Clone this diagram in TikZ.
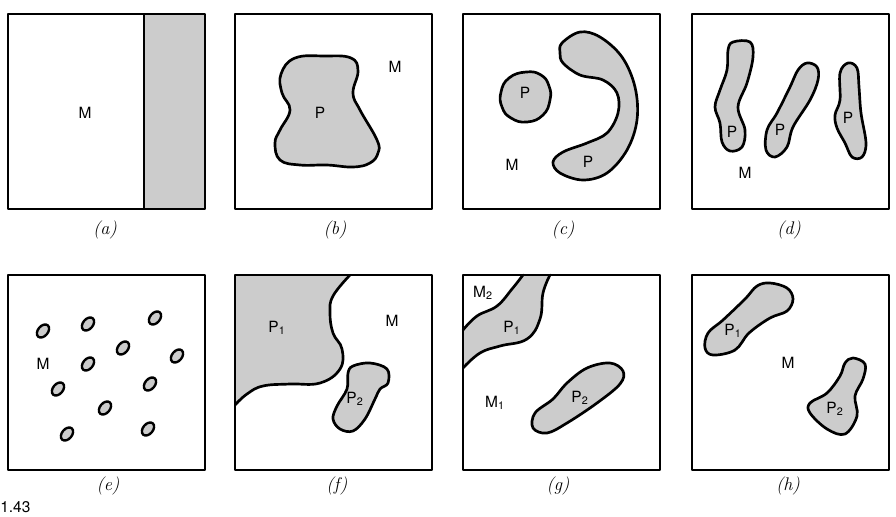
\documentclass[tikz,border=0pt]{standalone}
\usepackage{fontspec}
\setsansfont{TeX Gyre Heros}

\begin{document}
\begin{tikzpicture}[
  x=0.025cm,
  y=-0.025cm,
  line cap=round,
  line join=round,
  panel/.style={draw=black,line width=1.3pt},
  phase/.style={draw=black,line width=1.9pt,fill=black!20},
  boundary/.style={draw=black,line width=1.9pt},
  shade/.style={fill=black!20},
  grain/.style={draw=black,line width=1.7pt,fill=black!20},
  label/.style={font=\sffamily\fontsize{11}{13}\selectfont,inner sep=0pt},
  caption/.style={font=\fontsize{13}{15}\selectfont\itshape,inner sep=0pt}
]
  \path[use as bounding box] (0,0) rectangle (896,516);

  % (a) Two phases side by side.
  \begin{scope}[shift={(8,14)}]
    \fill[shade] (136,0) rectangle (197,195);
    \draw[panel] (136,0) -- (136,195);
    \draw[panel] (0,0) rectangle (197,195);
    \node[label] (aM) at (77,99) {M};
    \node[caption] (acap) at (97,216) {(a)};
  \end{scope}

  % (b) One lump of P inside M.
  \begin{scope}[shift={(235,14)}]
    \draw[panel] (0,0) rectangle (197,195);
    \draw[phase] plot[smooth cycle,tension=0.7] coordinates {
      (60,44) (90,42) (116,44) (123,57) (118,79) (125,96) (142,126)
      (143,139) (135,149) (118,153) (92,151) (65,151) (45,146) (40,129)
      (45,116) (55,96) (47,79) (46,60)};
    \node[label] (bM) at (160,53) {M};
    \node[label] (bP) at (85,99) {P};
    \node[caption] (bcap) at (100,216) {(b)};
  \end{scope}

  % (c) A round grain and a bent one.
  \begin{scope}[shift={(463,14)}]
    \draw[panel] (0,0) rectangle (197,195);
    \draw[phase] plot[smooth cycle,tension=0.8] coordinates {
      (63,58) (78,61) (86,72) (87,86) (80,101) (64,108) (48,104) (39,93)
      (38,78) (46,64)};
    \draw[phase] plot[smooth cycle,tension=0.6] coordinates {
      (99,29) (117,18) (137,23) (159,43) (172,73) (174,106) (164,136)
      (144,159) (120,166) (97,159) (90,148) (100,138) (124,129) (144,119)
      (155,99) (154,79) (140,66) (117,61) (100,49) (97,39)};
    \node[label] (cP1) at (62,79) {P};
    \node[label] (cP2) at (125,148) {P};
    \node[label] (cM) at (49,151) {M};
    \node[caption] (ccap) at (100,216) {(c)};
  \end{scope}

  % (d) Three elongated grains.
  \begin{scope}[shift={(692,14)}]
    \draw[panel] (0,0) rectangle (197,195);
    \draw[phase] plot[smooth cycle,tension=0.6] coordinates {
      (41,28) (58,28) (61,43) (55,69) (46,93) (53,116) (50,133) (38,137)
      (30,128) (28,109) (23,93) (28,76) (35,56) (36,36)};
    \draw[phase] plot[smooth cycle,tension=0.6] coordinates {
      (115,49) (125,53) (126,66) (118,86) (101,113) (95,133) (83,143)
      (74,136) (75,116) (85,99) (98,73) (106,56)};
    \draw[phase] plot[smooth cycle,tension=0.6] coordinates {
      (156,49) (165,54) (167,73) (169,99) (174,129) (170,143) (160,143)
      (153,129) (145,114) (143,101) (148,86) (148,59)};
    \node[label] (dP1) at (40,118) {P};
    \node[label] (dP2) at (88,116) {P};
    \node[label] (dP3) at (156,104) {P};
    \node[label] (dM) at (53,159) {M};
    \node[caption] (dcap) at (97,216) {(d)};
  \end{scope}

  % (e) Many small grains scattered through M.
  \begin{scope}[shift={(8,275)}]
    \draw[panel] (0,0) rectangle (197,195);
    \foreach \gX/\gY in {35/56,80/49,147/43,115/73,169/81,80/89,
                         50/114,142/109,97/133,59/159,140/154}{
      \draw[grain] (\gX,\gY) circle[x radius=7.4,y radius=5,rotate=50];
    }
    \node[label] (eM) at (35,89) {M};
    \node[caption] (ecap) at (100,211) {(e)};
  \end{scope}

  % (f) P1 fills a corner, P2 floats in M.
  \begin{scope}[shift={(235,275)}]
    \fill[shade] (0,0) -- plot[smooth,tension=0.7] coordinates {
      (115,0) (98,21) (95,38) (98,58) (107,74) (105,94) (85,108)
      (55,109) (28,111) (12,119) (0,130)} -- cycle;
    \draw[boundary] plot[smooth,tension=0.7] coordinates {
      (115,0) (98,21) (95,38) (98,58) (107,74) (105,94) (85,108)
      (55,109) (28,111) (12,119) (0,130)};
    \draw[phase] plot[smooth cycle,tension=0.6] coordinates {
      (118,91) (135,88) (152,94) (153,108) (145,114) (140,124) (130,144)
      (118,156) (105,154) (98,144) (102,131) (112,114) (113,98)};
    \draw[panel] (0,0) rectangle (197,195);
    \node[label] (fP1) at (42,53) {P\textsubscript{1}};
    \node[label] (fP2) at (120,124) {P\textsubscript{2}};
    \node[label] (fM) at (157,46) {M};
    \node[caption] (fcap) at (102,211) {(f)};
  \end{scope}

  % (g) A band of P1 cuts M2 off from M1.
  \begin{scope}[shift={(463,275)}]
    \fill[shade] plot[smooth,tension=0.7] coordinates {
      (60,0) (49,14) (34,31) (14,41) (0,55)}
      -- plot[smooth,tension=0.7] coordinates {
      (0,93) (17,78) (37,71) (64,64) (77,44) (80,18) (87,0)} -- cycle;
    \draw[boundary] plot[smooth,tension=0.7] coordinates {
      (60,0) (49,14) (34,31) (14,41) (0,55)};
    \draw[boundary] plot[smooth,tension=0.7] coordinates {
      (0,93) (17,78) (37,71) (64,64) (77,44) (80,18) (87,0)};
    \draw[phase] plot[smooth cycle,tension=0.6] coordinates {
      (147,88) (160,96) (157,109) (134,128) (104,148) (84,158) (70,153)
      (72,138) (90,124) (104,108) (124,93)};
    \draw[panel] (0,0) rectangle (197,195);
    \node[label] (gM2) at (20,18) {M\textsubscript{2}};
    \node[label] (gP1) at (49,53) {P\textsubscript{1}};
    \node[label] (gM1) at (32,128) {M\textsubscript{1}};
    \node[label] (gP2) at (117,123) {P\textsubscript{2}};
    \node[caption] (gcap) at (95,211) {(g)};
  \end{scope}

  % (h) Two separate grains of different P.
  \begin{scope}[shift={(692,275)}]
    \draw[panel] (0,0) rectangle (197,195);
    \draw[phase] plot[smooth cycle,tension=0.6] coordinates {
      (78,8) (95,13) (101,24) (95,36) (78,43) (57,58) (43,75) (21,80)
      (13,73) (16,58) (31,45) (53,24) (65,11)};
    \draw[phase] plot[smooth cycle,tension=0.6] coordinates {
      (161,83) (173,89) (171,104) (163,121) (165,141) (153,159) (135,154)
      (118,138) (118,128) (135,118) (148,101) (153,88)};
    \node[label] (hP1) at (41,56) {P\textsubscript{1}};
    \node[label] (hP2) at (143,134) {P\textsubscript{2}};
    \node[label] (hM) at (96,88) {M};
    \node[caption] (hcap) at (96,211) {(h)};
  \end{scope}

  \node[font=\sffamily\fontsize{11}{13}\selectfont,inner sep=0pt,anchor=west]
    (fignum) at (0,507) {1.43};
\end{tikzpicture}
\end{document}
